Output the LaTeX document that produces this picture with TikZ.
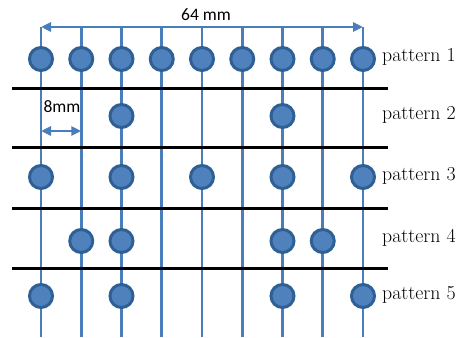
\documentclass[tikz,border=0pt]{standalone}
\usepackage{fontspec}
\newfontfamily\calib{Carlito}
\usetikzlibrary{arrows.meta}
\definecolor{pinline}{HTML}{4A7EBB}
\definecolor{dotfill}{HTML}{4F81BD}
\definecolor{dotedge}{HTML}{2E5F95}
\tikzset{
  pin/.style={draw=pinline, line width=2.7pt},
  dot/.style={circle, draw=dotedge, fill=dotfill, line width=3pt, minimum size=23pt, inner sep=0pt},
  sep/.style={draw=black, line width=3pt},
  dim/.style={draw=pinline, line width=2.7pt, {Triangle[length=10pt,width=9pt]}-{Triangle[length=10pt,width=9pt]}},
  plabel/.style={anchor=west, inner sep=0pt, font=\fontsize{19.8}{22}\selectfont},
  mlabel/.style={inner sep=0pt, font=\calib\fontsize{17.5}{19}\selectfont}
}
\begin{document}
\begin{tikzpicture}[x=1pt,y=-1pt]
\useasboundingbox (0,0) rectangle (462,337);
% column coordinates
\foreach \i in {0,...,8} {
  \coordinate (t\i) at ({41+40.25*\i},27);
  \coordinate (b\i) at ({41+40.25*\i},337);
}
% vertical lines
\foreach \i in {0,...,8} {\draw[pin] (t\i) -- (b\i);}
% top dimension arrow
\draw[dim] (t0) -- (t8);
\node[mlabel] (dim64) at (206,15) {64 mm};
% separators
\foreach \y/\n in {88/1,147/2,208/3,268/4} {
  \coordinate (sl\n) at (12,\y);
  \coordinate (sr\n) at (388,\y);
  \draw[sep] (sl\n) -- (sr\n);
}
% 8mm dimension
\coordinate (d0) at (41,131);
\coordinate (d1) at (81.25,131);
\draw[dim] (d0) -- (d1);
\node[mlabel] (dim8) at (62,107) {8mm};
% dots
\foreach \i in {0,...,8} {\node[dot] (p1c\i) at ({41+40.25*\i},59) {};}
\foreach \i in {2,6} {\node[dot] (p2c\i) at ({41+40.25*\i},116) {};}
\foreach \i in {0,2,4,6,8} {\node[dot] (p3c\i) at ({41+40.25*\i},177) {};}
\foreach \i in {1,2,6,7} {\node[dot] (p4c\i) at ({41+40.25*\i},241) {};}
\foreach \i in {0,2,6,8} {\node[dot] (p5c\i) at ({41+40.25*\i},296) {};}
% labels
\node[plabel] (l1) at (382,57) {pattern 1};
\node[plabel] (l2) at (382,115) {pattern 2};
\node[plabel] (l3) at (382,176) {pattern 3};
\node[plabel] (l4) at (382,238) {pattern 4};
\node[plabel] (l5) at (382,295) {pattern 5};
\end{tikzpicture}
\end{document}
